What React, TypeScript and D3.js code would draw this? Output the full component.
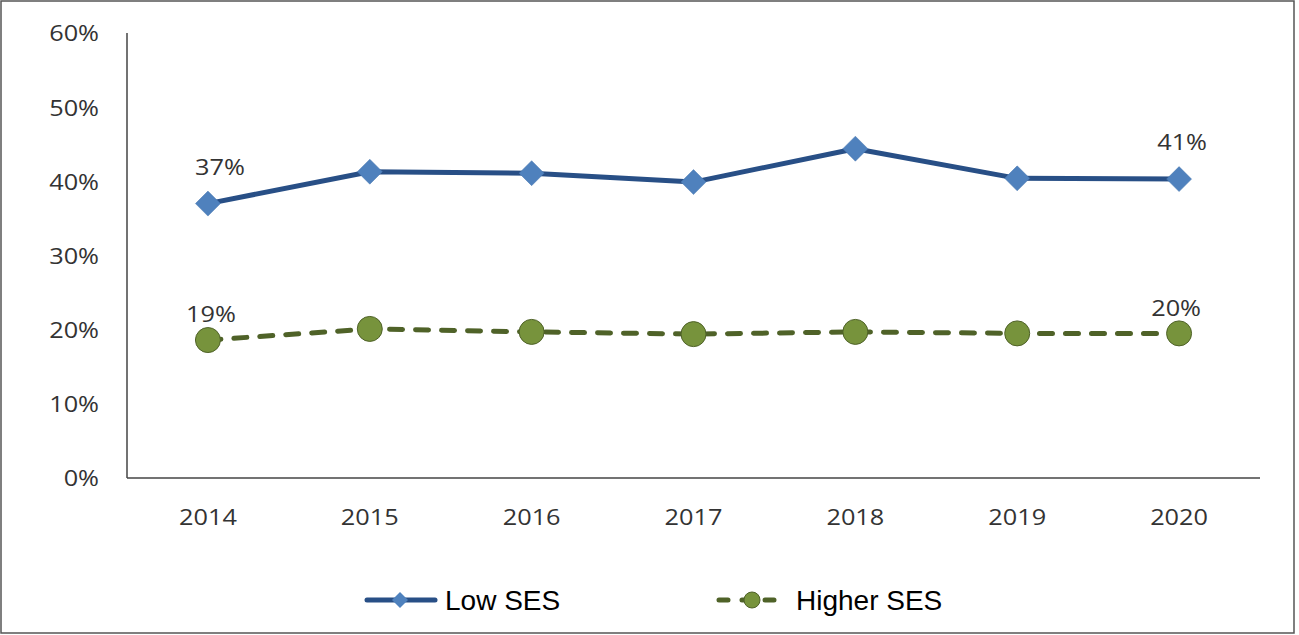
import React from "react";
import * as d3 from "d3";

const years = ["2014", "2015", "2016", "2017", "2018", "2019", "2020"];
const lowSES = [37.0, 41.3, 41.1, 39.9, 44.4, 40.4, 40.3];
const higherSES = [18.6, 20.1, 19.7, 19.4, 19.7, 19.5, 19.5];
const yTicks = [0, 10, 20, 30, 40, 50, 60];
const lowLabels = ["37%", "", "", "", "", "", "41%"];
const higherLabels = ["19%", "", "", "", "", "", "20%"];

const W = 1299;
const H = 635;

function SText(props: { x: number; y: number; anchor: string; children: React.ReactNode }) {
  return (
    <text
      transform={`translate(${props.x},${props.y}) scale(1.15,1)`}
      textAnchor={props.anchor as any}
      dominantBaseline="central"
      fontFamily="'Open Sans', sans-serif"
      fontSize={22}
      fill="#333"
    >
      {props.children}
    </text>
  );
}

export default function App() {
  const x = d3.scalePoint<string>().domain(years).range([127, 1260]).padding(0.5);
  const y = d3.scaleLinear().domain([0, 60]).range([478, 33]);
  const line = d3
    .line<number>()
    .x((_, i) => x(years[i]) as number)
    .y((d) => y(d));

  const legendFont = "'Liberation Sans', Arial, sans-serif";
  const blueLine = "#284F86";
  const blueFill = "#4F81BD";
  const greenLine = "#4F6228";
  const greenFill = "#77933C";

  const diamond = (cx: number, cy: number, r: number) =>
    `M${cx},${cy - r}L${cx + r},${cy}L${cx},${cy + r}L${cx - r},${cy}Z`;

  return (
    <div style={{ position: "absolute", left: 0, top: 0 }}>
      <svg width={W} height={H} style={{ display: "block", background: "#fff" }}>
        <rect x={1} y={1} width={1293} height={632} fill="#fff" stroke="#555" strokeWidth={1.5} />
        {/* axes */}
        <line x1={127} x2={127} y1={33} y2={478} stroke="#444" strokeWidth={1.5} />
        <line x1={127} x2={1260} y1={478} y2={478} stroke="#444" strokeWidth={1.5} />
        {yTicks.map((t) => (
          <SText key={t} x={99} y={y(t)} anchor="end">
            {t}%
          </SText>
        ))}
        {years.map((yr) => (
          <SText key={yr} x={x(yr) as number} y={517} anchor="middle">
            {yr}
          </SText>
        ))}
        {/* Low SES */}
        <path d={line(lowSES) || ""} fill="none" stroke={blueLine} strokeWidth={5} strokeLinejoin="round" />
        {lowSES.map((v, i) => (
          <path key={i} d={diamond(x(years[i]) as number, y(v), 12.5)} fill={blueFill} stroke="#4A78B0" strokeWidth={0.5} />
        ))}
        {/* Higher SES */}
        <path
          d={line(higherSES) || ""}
          fill="none"
          stroke={greenLine}
          strokeWidth={5}
          strokeDasharray="13 13"
          strokeLinecap="round"
        />
        {higherSES.map((v, i) => (
          <circle key={i} cx={x(years[i]) as number} cy={y(v)} r={12.5} fill={greenFill} stroke={greenLine} strokeWidth={1} />
        ))}
        {/* data labels */}
        {lowSES.map((v, i) =>
          lowLabels[i] ? (
            <SText key={"l" + i} x={(x(years[i]) as number) + (i === 0 ? 12 : 3)} y={y(v) - 37} anchor="middle">
              {lowLabels[i]}
            </SText>
          ) : null
        )}
        {higherSES.map((v, i) =>
          higherLabels[i] ? (
            <SText key={"h" + i} x={(x(years[i]) as number) + (i === 0 ? 3 : -3)} y={y(v) - 26} anchor="middle">
              {higherLabels[i]}
            </SText>
          ) : null
        )}
        {/* legend */}
        <line x1={367} x2={435} y1={600} y2={600} stroke={blueLine} strokeWidth={5} strokeLinecap="round" />
        <path d={diamond(400, 600, 8)} fill={blueFill} />
        <text x={445} y={600} dominantBaseline="central" fontFamily={legendFont} fontSize={28} fill="#000">
          Low SES
        </text>
        <line
          x1={719}
          x2={784}
          y1={600}
          y2={600}
          stroke={greenLine}
          strokeWidth={5}
          strokeDasharray="9 14"
          strokeLinecap="round"
        />
        <circle cx={752} cy={600} r={8} fill={greenFill} stroke={greenLine} strokeWidth={1} />
        <text x={796} y={600} dominantBaseline="central" fontFamily={legendFont} fontSize={28} fill="#000">
          Higher SES
        </text>
      </svg>
    </div>
  );
}
